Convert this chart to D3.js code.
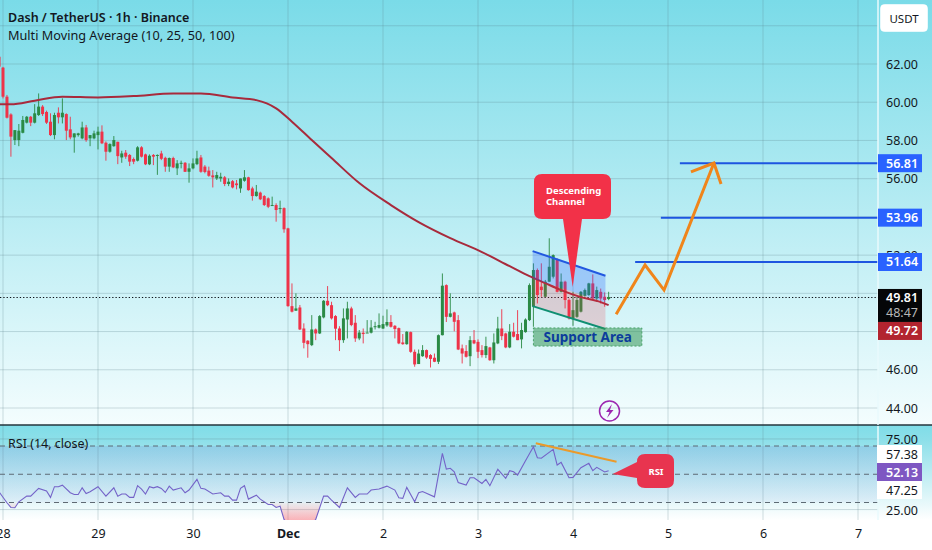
<!DOCTYPE html>
<html>
<head>
<meta charset="utf-8">
<script src="https://cdn.jsdelivr.net/npm/d3@7"></script>
<style>
html,body{margin:0;padding:0;background:#fff;overflow:hidden;}
svg{display:block;}
text{font-family:"Noto Sans",sans-serif;fill:#131722;}
</style>
</head>
<body>
<div class="container"></div>
<script>
// candles are hourly, first one is the hour before 28 Nov 00:00
var firstHour = -1;
var opens = [
62.38,61.81,60.29,59.36,58.02,58.02,58.4,58.93,59.24,58.93,
59.33,59.77,59.49,58.98,58.28,59.45,59.21,59.38,58.58,58.16,
58.28,58.11,58.68,58.11,58.11,58.28,58.46,57.88,57.41,57.7,
57.93,57.11,57.36,57.24,57.03,56.94,57.64,57.27,56.75,57.24,
57.2,57.32,57.09,56.63,57.08,56.54,56.8,56.83,56.36,56.54,
56.76,57.11,56.63,56.42,56.17,56.01,56.01,56.07,55.72,55.87,
55.75,55.49,55.89,56.07,55.49,55.09,55.27,55.09,54.97,54.59,
54.62,54.43,54.46,53.4,49.33,49.09,49.26,48.16,47.52,47.29,
48.11,47.9,48.74,49.61,49.38,48.81,48.16,47.55,48.63,49.21,
48.46,47.64,47.94,47.94,47.94,48.25,48.2,48.16,48.32,48.5,
48.3,48.18,47.43,47.34,47.97,46.94,46.3,46.71,47.03,46.77,
46.63,46.42,47.81,50.43,48.77,49.0,48.6,47.12,46.98,46.71,
47.55,47.46,47.03,46.77,47.17,46.5,47.38,48.16,47.9,47.17,
47.99,47.87,47.59,47.97,48.6,49.3,51.22,50.35,49.82,50.61,
50.87,51.79,50.08,50.61,49.65,48.69,48.77,49.04,49.87,49.91,
50.52,49.73,50.08,49.82,49.7];
var highs = [
62.4,61.85,60.38,59.42,58.54,58.86,59.28,59.28,59.28,59.9,
60.46,59.85,59.56,59.42,59.45,59.73,60.2,59.42,59.24,58.37,
58.4,58.98,58.81,58.28,58.51,58.72,58.79,57.95,57.85,58.23,
57.93,57.46,57.5,57.29,57.11,57.7,57.7,57.31,57.27,57.29,
57.27,57.46,57.15,57.11,57.15,56.97,56.94,56.87,56.8,57.06,
57.46,57.24,56.71,56.63,56.45,56.36,56.31,56.14,56.01,55.93,
55.93,56.01,56.45,56.1,55.58,55.67,55.32,55.14,55.02,55.06,
54.71,54.85,54.5,53.43,50.52,50.0,49.39,48.43,47.55,48.86,
48.16,48.86,49.65,50.38,49.56,48.86,48.28,49.21,49.56,49.3,
48.86,48.08,48.16,48.6,48.6,48.51,48.95,48.83,49.16,48.86,
48.34,48.21,47.87,48.02,48.0,47.06,47.06,47.29,47.06,46.82,
46.85,47.85,51.04,50.47,50.0,49.04,48.86,47.32,47.29,47.76,
48.08,47.59,47.29,47.73,47.2,47.9,48.77,49.17,47.94,48.39,
48.46,49.12,48.46,48.69,50.52,51.57,51.3,51.57,50.7,52.88,
52.04,51.83,51.04,50.66,49.73,50.08,49.82,50.12,50.25,50.55,
50.99,50.35,50.25,50.05,50.08];
var lows = [
61.86,60.2,59.15,57.15,57.76,57.7,58.37,58.89,58.75,58.89,
59.28,59.28,58.86,58.23,58.06,58.89,58.89,58.02,58.06,57.36,
58.2,58.06,57.93,57.7,58.06,57.53,57.81,56.94,57.36,57.67,
56.76,56.83,57.04,56.66,56.76,56.9,57.11,56.71,56.71,56.71,
56.2,56.97,56.36,56.36,56.55,56.19,56.54,56.35,55.79,56.49,
56.71,56.31,56.28,56.1,55.54,55.93,55.84,55.61,55.61,55.49,
55.44,55.26,55.84,55.37,54.85,55.06,54.88,54.57,54.46,54.57,
53.75,54.18,53.17,49.3,49.0,49.09,48.08,47.12,46.63,47.24,
47.55,47.87,48.69,49.33,48.63,47.55,46.98,47.41,47.64,48.28,
47.46,47.55,47.38,47.94,47.9,48.11,48.16,48.13,48.25,48.21,
47.64,47.34,47.31,47.31,46.89,46.16,46.3,46.68,46.57,46.12,
46.4,46.3,47.8,48.5,48.74,48.01,47.03,46.33,46.64,46.19,
47.34,46.61,46.64,46.61,46.47,46.33,47.34,47.55,47.13,47.13,
47.69,47.55,47.12,47.94,48.55,48.25,49.47,49.82,49.82,50.6,
50.78,50.05,50.05,49.21,48.63,48.3,48.72,49.0,49.82,49.87,
49.7,49.56,49.47,49.3,49.64];
var closes = [
61.86,60.29,59.19,58.2,58.54,58.51,59.07,59.24,58.93,59.42,
59.77,59.38,58.93,58.28,59.33,59.21,59.45,58.51,58.16,58.37,
58.37,58.68,58.02,58.28,58.37,58.46,57.85,57.41,57.81,58.02,
57.18,57.32,57.15,56.89,56.89,57.64,57.15,56.75,57.2,57.15,
57.24,57.04,56.63,57.08,56.59,56.8,56.83,56.36,56.54,56.8,
57.06,56.36,56.35,56.15,56.07,56.19,56.1,55.72,55.84,55.54,
55.66,56.01,56.07,55.4,55.09,55.32,54.92,54.62,54.53,54.62,
54.36,54.46,53.35,49.33,49.04,49.21,48.11,47.41,47.34,48.11,
47.9,48.81,49.61,49.38,48.69,48.15,47.55,48.69,49.21,48.34,
47.64,47.95,47.87,47.95,48.21,48.28,48.34,48.39,48.5,48.25,
48.13,47.38,47.34,47.99,46.94,46.28,46.85,47.03,46.64,46.57,
46.42,47.81,50.4,48.77,48.95,48.51,47.06,46.85,46.68,47.55,
47.38,46.94,46.77,47.24,46.5,47.43,48.16,47.76,47.17,47.99,
47.73,47.55,48.08,48.63,50.43,51.22,49.91,50.17,50.61,51.39,
52.0,50.08,50.61,49.65,48.69,49.12,49.65,50.08,50.17,50.52,
49.73,50.17,49.73,49.65,49.81];

// moving average (100)
var maHours = [-1,2,8,15,24,33,43,50,58,64,69,73,78,83,90,98,105,113,121,128,133,137,141,146,151,153];
var maValues = [59.9,59.89,60.08,60.29,60.25,60.32,60.46,60.46,60.25,60.11,59.68,58.98,58.02,57.08,55.77,54.62,53.73,52.89,52.16,51.42,50.9,50.53,50.17,49.8,49.54,49.38];

// rsi pane
var rsiHours = [-1,1,2,3,4,6,7,9,11,12,13,14,15,17,18,19,20,21,22,24,26,28,29,30,31,32,33,34,35,36,37,38,39,40,41,42,43,45,46,47,49,50,51,53,55,56,57,58,59,60,61,62,64,65,67,68,69,70,71,73,77,79,81,82,83,85,87,89,90,92,93,95,97,99,100,101,102,104,105,106,109,111,112,113,114,115,117,118,119,121,122,123,125,127,128,129,130,132,134,135,136,139,140,141,143,144,146,148,149,150,152,153];
var rsiValues = [37.6,29.8,26.5,26.3,30.5,34.5,34.5,40,38.1,33.6,41.2,41.2,42.3,36.9,35.7,35.7,40.4,36.4,37.6,41.2,34.5,40.4,34.5,36,36,33.6,33.6,41.9,39.5,36,41.2,40.4,41.2,40,37.1,41.6,38.8,40.4,36.9,38.8,46.4,40,39.5,36,36.9,34.5,34.5,31.7,31.7,40,41.9,32.4,35.2,32.4,28.6,28.6,26.5,27.4,18,12,11,18,34.5,34.5,31.7,26.5,40.4,33.6,36,36,38.8,39.5,41.6,38.8,33.4,32.9,40.7,30.5,36.9,37.8,34,64.8,53.7,54.2,51.8,44.2,42.3,47.5,47.5,43.5,46.4,41.9,53.5,47.1,52.5,51.8,49.4,59.6,69.5,61.7,61.3,67.6,56.5,58.4,47.5,47.8,54.6,57.7,52.5,54.9,51.6,52.5];
var rsiLevels = [70,50,30];
var rsiGrid = [75,25];
var rsiTicks = [75,25];

var priceTicks = [44,46,48,50,52,54,56,58,60,62,64];
var dayHours = [0,24,48,72,96,120,144,168,192,216];
var dayLabels = ["28","29","30","Dec","2","3","4","5","6","7"];

var lastPrice = 49.81;
var countdown = "48:47";
var redLabel = 49.72;
var rsiBoxes = [57.38,52.13,47.25];

// drawings on the chart
var targetLevels = [56.81,53.96,51.64];
var targetStart = [171,166.2,159.7];
var pathHours = [154.9,162.2,167,179.6];
var pathPrices = [48.91,51.48,50.17,56.82];
var headHours = [173.8,179.6,181.4];
var headPrices = [56.35,56.82,55.72];
var channelHours = [133.8,152.2];
var channelTop = [52.21,50.92];
var channelMid = [50.77,49.52];
var channelLow = [49.33,48.13];
var supportHours = [134,161.4];
var supportPrices = [48.19,47.24];
var rsiLineHours = [134.6,155];
var rsiLineValues = [71.9,58.9];

var W = 932, H = 550, axisX = 878, paneSplit = 425, paneBottom = 520;

var x = d3.scaleLinear().domain([0,216]).range([3,858]);
var y = d3.scaleLinear().domain([44,62]).range([408,64]);
var yRsi = d3.scaleLinear().domain([30,70]).range([502.5,446]);

var candles = opens.map(function(o,i){
	return {hour:firstHour+i, o:o, h:highs[i], l:lows[i], c:closes[i]};
});
var ma = maHours.map(function(h,i){return {hour:h, v:maValues[i]};});
var rsi = rsiHours.map(function(h,i){return {hour:h, v:rsiValues[i]};});

var svg = d3.select('.container').append('svg')
	.attr("width",W)
	.attr("height",H);
var defs = svg.append('defs');

var gradient = function(id,y1,y2,stops){
	var g = defs.append('linearGradient').attr("id",id)
		.attr("gradientUnits","userSpaceOnUse")
		.attr("x1",0).attr("x2",0).attr("y1",y1).attr("y2",y2);
	stops.forEach(function(s){
		g.append('stop').attr("offset",s[0]).attr("stop-color",s[1]).attr("stop-opacity",s[2]===undefined?1:s[2]);
	});
};
gradient("bgMain",0,paneSplit,[[0,"#7adbe8"],[1,"#f4fdfe"]]);
gradient("bgRsi",paneSplit,paneBottom,[[0,"#7fdde8"],[0.15,"#8cdfe9"],[1,"#ffffff"]]);
gradient("band",yRsi(70),yRsi(30),[[0,"#6f6fd0",0.17],[1,"#6f6fd0",0.07]]);
gradient("oversold",yRsi(30),paneBottom,[[0,"#f23645",0.05],[1,"#f23645",0.38]]);

defs.append('clipPath').attr("id","mainClip").append('rect')
	.attr("x",0).attr("y",0).attr("width",axisX).attr("height",paneSplit);
defs.append('clipPath').attr("id","rsiClip").append('rect')
	.attr("x",0).attr("y",paneSplit).attr("width",axisX).attr("height",paneBottom-paneSplit);
defs.append('clipPath').attr("id","belowThirty").append('rect')
	.attr("x",0).attr("y",yRsi(30)).attr("width",axisX).attr("height",paneBottom-yRsi(30));

svg.append('rect').attr("width",W).attr("height",paneSplit).attr("fill","url(#bgMain)");
svg.append('rect').attr("y",paneSplit).attr("width",W).attr("height",H-paneSplit).attr("fill","url(#bgRsi)");

// grid
var gridColor = "rgba(90,125,135,0.27)";
svg.append('g').selectAll('line').data(priceTicks).enter().append('line')
	.attr("x1",0).attr("x2",axisX)
	.attr("y1",function(d){return y(d)}).attr("y2",function(d){return y(d)})
	.attr("stroke",gridColor);
svg.append('g').selectAll('line').data(rsiGrid).enter().append('line')
	.attr("x1",0).attr("x2",axisX)
	.attr("y1",function(d){return yRsi(d)}).attr("y2",function(d){return yRsi(d)})
	.attr("stroke",gridColor);
svg.append('g').selectAll('line').data(dayHours).enter().append('line')
	.attr("x1",function(d){return x(d)}).attr("x2",function(d){return x(d)})
	.attr("y1",0).attr("y2",paneBottom)
	.attr("stroke",gridColor);

var main = svg.append('g').attr("clip-path","url(#mainClip)");

// last price
main.append('line')
	.attr("x1",0).attr("x2",axisX)
	.attr("y1",Math.round(y(lastPrice))+0.5).attr("y2",Math.round(y(lastPrice))+0.5)
	.attr("stroke","#0d1218").attr("stroke-width",1.2).attr("stroke-dasharray","1.3 2");

var candleColor = function(d){return d.c>=d.o ? "#2a8a45" : "#ee3349";};

main.append('g').selectAll('line').data(candles).enter().append('line')
	.attr("x1",function(d){return x(d.hour)}).attr("x2",function(d){return x(d.hour)})
	.attr("y1",function(d){return y(d.h)}).attr("y2",function(d){return y(d.l)})
	.attr("stroke",candleColor).attr("stroke-width",1).attr("opacity",0.9);
main.append('g').selectAll('rect').data(candles).enter().append('rect')
	.attr("x",function(d){return x(d.hour)-1.5})
	.attr("width",3)
	.attr("y",function(d){return y(Math.max(d.o,d.c))})
	.attr("height",function(d){return Math.max(1,Math.abs(y(d.o)-y(d.c)))})
	.attr("fill",candleColor);

main.append('path').datum(ma)
	.attr("d",d3.line().x(function(d){return x(d.hour)}).y(function(d){return y(d.v)}).curve(d3.curveMonotoneX))
	.attr("fill","none").attr("stroke","#a82a3c").attr("stroke-width",2);

// channel
var channelPoly = function(a,b){
	return [[x(channelHours[0]),y(a[0])],[x(channelHours[1]),y(a[1])],[x(channelHours[1]),y(b[1])],[x(channelHours[0]),y(b[0])]].join(" ");
};
main.append('polygon').attr("points",channelPoly(channelTop,channelMid)).attr("fill","rgba(41,98,255,0.28)");
main.append('polygon').attr("points",channelPoly(channelMid,channelLow)).attr("fill","rgba(242,54,69,0.2)");
main.append('line')
	.attr("x1",x(channelHours[0])).attr("x2",x(channelHours[1]))
	.attr("y1",y(channelTop[0])).attr("y2",y(channelTop[1]))
	.attr("stroke","#2258e0").attr("stroke-width",2);
main.append('line')
	.attr("x1",x(channelHours[0])).attr("x2",x(channelHours[1]))
	.attr("y1",y(channelLow[0])).attr("y2",y(channelLow[1]))
	.attr("stroke","#0f8f72").attr("stroke-width",2);

// support box
main.append('rect')
	.attr("x",x(supportHours[0])).attr("width",x(supportHours[1])-x(supportHours[0]))
	.attr("y",y(supportPrices[0])).attr("height",y(supportPrices[1])-y(supportPrices[0]))
	.attr("fill","rgba(52,150,85,0.55)").attr("stroke","rgba(52,150,85,0.8)").attr("stroke-dasharray","2 2");
main.append('text')
	.attr("x",(x(supportHours[0])+x(supportHours[1]))/2).attr("y",y(supportPrices[1])-4)
	.attr("text-anchor","middle")
	.style("font-size","13.5px").style("font-weight","700").style("fill","#0c3c9c")
	.text("Support Area");

// target levels
main.append('g').selectAll('line').data(targetLevels).enter().append('line')
	.attr("x1",function(d,i){return x(targetStart[i])}).attr("x2",axisX)
	.attr("y1",function(d){return y(d)}).attr("y2",function(d){return y(d)})
	.attr("stroke","#1d55e0").attr("stroke-width",2);

// projected path
var pathLine = d3.line().x(function(d){return x(d[0])}).y(function(d){return y(d[1])});
main.append('path').attr("d",pathLine(d3.zip(pathHours,pathPrices)))
	.attr("fill","none").attr("stroke","#f0851a").attr("stroke-width",3).attr("stroke-linejoin","miter");
main.append('path').attr("d",pathLine(d3.zip(headHours,headPrices)))
	.attr("fill","none").attr("stroke","#f0851a").attr("stroke-width",3);

// callout
svg.append('path')
	.attr("d","M542 174H603Q611 174 611 182V211Q611 219 603 219H582L572.7 287L563 219H542Q534 219 534 211V182Q534 174 542 174Z")
	.attr("fill","#f23148");
svg.append('text').attr("x",546).attr("y",194)
	.style("font-size","9.5px").style("font-weight","700").style("fill","#fff").text("Descending");
svg.append('text').attr("x",546).attr("y",205)
	.style("font-size","9.5px").style("font-weight","700").style("fill","#fff").text("Channel");

// bolt icon
svg.append('circle').attr("cx",609.5).attr("cy",411).attr("r",10)
	.attr("fill","none").attr("stroke","#9c27b0").attr("stroke-width",1.5);
svg.append('path').attr("d","M612 404L606 412H609.5L607 418L613.5 410H610Z").attr("fill","#9c27b0");

// rsi pane
var rsiPane = svg.append('g').attr("clip-path","url(#rsiClip)");
rsiPane.append('rect')
	.attr("x",0).attr("width",axisX)
	.attr("y",yRsi(70)).attr("height",yRsi(30)-yRsi(70))
	.attr("fill","url(#band)");
rsiPane.append('g').selectAll('line').data(rsiLevels).enter().append('line')
	.attr("x1",0).attr("x2",axisX)
	.attr("y1",function(d){return yRsi(d)}).attr("y2",function(d){return yRsi(d)})
	.attr("stroke","#5d6a74").attr("stroke-dasharray","5 4");
rsiPane.append('g').attr("clip-path","url(#belowThirty)").append('path').datum(rsi)
	.attr("d",d3.area().x(function(d){return x(d.hour)}).y0(yRsi(30)).y1(function(d){return yRsi(d.v)}))
	.attr("fill","url(#oversold)");
rsiPane.append('path').datum(rsi)
	.attr("d",d3.line().x(function(d){return x(d.hour)}).y(function(d){return yRsi(d.v)}))
	.attr("fill","none").attr("stroke","#7463c8").attr("stroke-width",1.1);
rsiPane.append('line')
	.attr("x1",x(rsiLineHours[0])).attr("x2",x(rsiLineHours[1]))
	.attr("y1",yRsi(rsiLineValues[0])).attr("y2",yRsi(rsiLineValues[1]))
	.attr("stroke","#eb9a2a").attr("stroke-width",2);

svg.append('path')
	.attr("d","M645 454H666Q674 454 674 462V480Q674 488 666 488H645Q637 488 637 480V478L612.7 474L637 462Q637 454 645 454Z")
	.attr("fill","#e8344f");
svg.append('text').attr("x",656).attr("y",475).attr("text-anchor","middle")
	.style("font-size","9.5px").style("font-weight","700").style("fill","#fff").text("RSI");

// pane separator and price axis edge
svg.append('line').attr("x1",0).attr("x2",W).attr("y1",paneSplit).attr("y2",paneSplit)
	.attr("stroke","#24343c").attr("stroke-width",1.6);
svg.append('line').attr("x1",axisX).attr("x2",axisX).attr("y1",0).attr("y2",paneSplit)
	.attr("stroke","#e8fafc").attr("stroke-width",1.5);
svg.append('line').attr("x1",axisX).attr("x2",axisX).attr("y1",paneSplit+1).attr("y2",paneBottom)
	.attr("stroke","#e8fafc").attr("stroke-width",1.5);

// axes
var priceAxis = d3.axisRight(y).tickValues(priceTicks.slice(0,-1)).tickSize(0).tickPadding(0).tickFormat(d3.format(".2f"));
var rsiAxis = d3.axisRight(yRsi).tickValues(rsiTicks).tickSize(0).tickPadding(0).tickFormat(d3.format(".2f"));
var dayAxis = d3.axisBottom(x).tickValues(dayHours).tickSize(0).tickPadding(0)
	.tickFormat(function(d,i){return dayLabels[i]});

var styleAxis = function(g){
	g.select('.domain').remove();
	g.selectAll('text').style("font-family",'"Noto Sans",sans-serif').style("font-size","12.5px").style("fill","#131722");
};
svg.append('g').attr("transform","translate(886,0)").call(priceAxis).call(styleAxis);
svg.append('g').attr("transform","translate(886,1)").call(rsiAxis).call(styleAxis);
svg.append('g').attr("transform","translate(0,529)").call(dayAxis).call(styleAxis)
	.selectAll('text').style("font-weight",function(d,i){return dayLabels[i]=="Dec"?"700":"400"});

var boxLabel = function(cy,h,fill,text,color){
	svg.append('rect').attr("x",878).attr("y",cy-h/2).attr("width",44).attr("height",h).attr("fill",fill);
	svg.append('text').attr("x",886).attr("y",cy+4.5)
		.style("font-size","12.5px").style("font-weight","600").style("fill",color).text(text);
};
targetLevels.forEach(function(d){
	boxLabel(y(d),18,"#2962ff",d3.format(".2f")(d),"#fff");
});

// last price box, countdown under it, then the red one
svg.append('rect').attr("x",878).attr("y",y(lastPrice)-8).attr("width",44).attr("height",33).attr("fill","#050608");
svg.append('text').attr("x",886).attr("y",y(lastPrice)+5)
	.style("font-size","12.5px").style("font-weight","600").style("fill","#fff").text(d3.format(".2f")(lastPrice));
svg.append('text').attr("x",886).attr("y",y(lastPrice)+20)
	.style("font-size","12.5px").style("fill","#b8b8b8").text(countdown);
boxLabel(y(lastPrice)+34,18,"#b2242f",d3.format(".2f")(redLabel),"#fff");

var rsiBoxFill = ["#fff","#7e57c2","#fff"];
var rsiBoxText = ["#131722","#fff","#131722"];
rsiBoxes.forEach(function(d,i){
	svg.append('rect').attr("x",877).attr("y",445+i*18).attr("width",45).attr("height",18).attr("fill",rsiBoxFill[i]);
	svg.append('text').attr("x",886).attr("y",458.5+i*18)
		.style("font-size","12.5px").style("font-weight",i==1?"600":"400").style("fill",rsiBoxText[i])
		.text(d3.format(".2f")(d));
});

// usdt button
svg.append('rect').attr("x",880.5).attr("y",4.5).attr("width",47).attr("height",27).attr("rx",4)
	.attr("fill","#fff").attr("stroke","rgba(255,255,255,0.6)").attr("stroke-width",1);
svg.append('text').attr("x",904).attr("y",23).attr("text-anchor","middle")
	.style("font-size","11.5px").text("USDT");

// legend text
svg.append('text').attr("x",8).attr("y",22)
	.style("font-size","12.5px").style("font-weight","600").text("Dash / TetherUS · 1h · Binance");
svg.append('text').attr("x",8).attr("y",40)
	.style("font-size","12.7px").text("Multi Moving Average (10, 25, 50, 100)");
svg.append('text').attr("x",8).attr("y",448)
	.style("font-size","12.5px").text("RSI (14, close)");
</script>
</body>
</html>
